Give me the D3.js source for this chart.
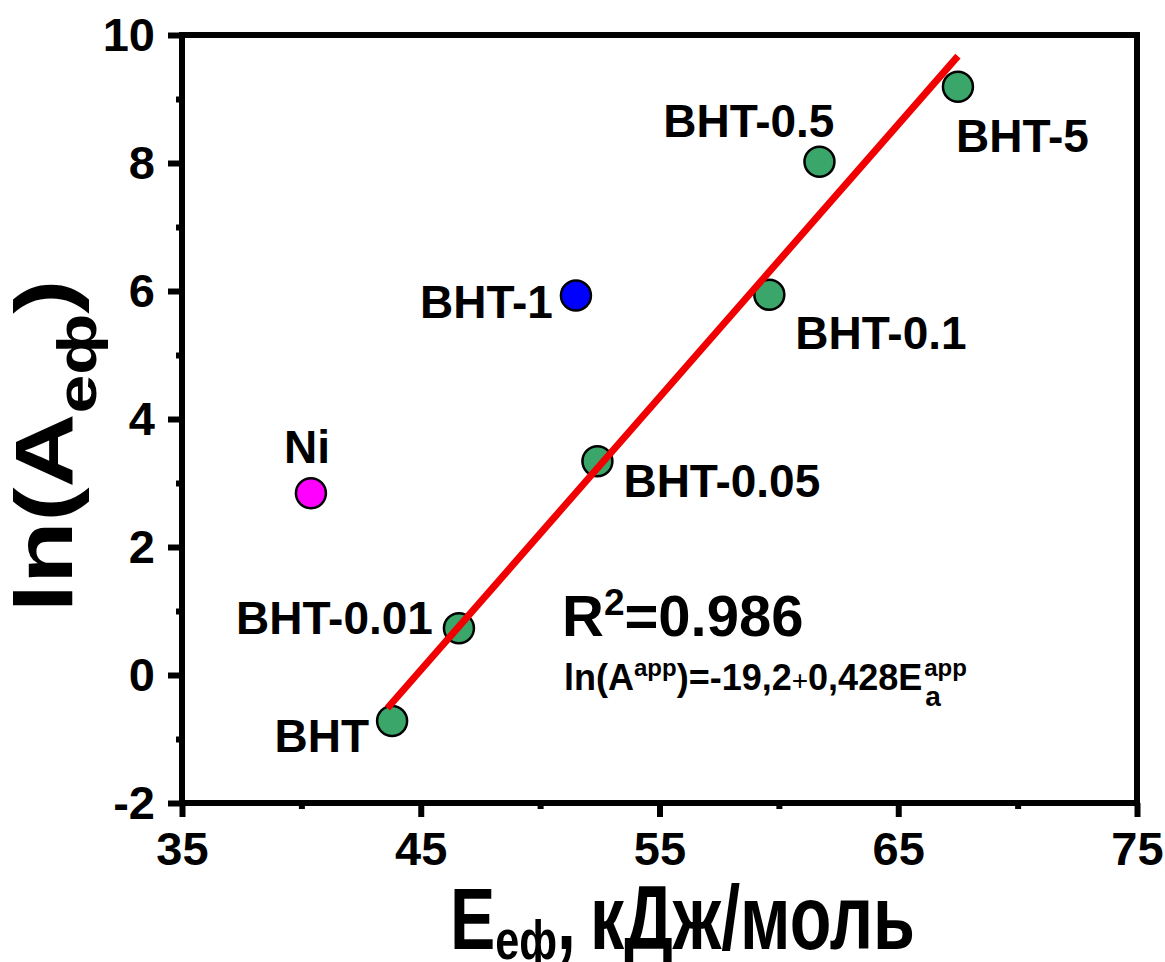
<!DOCTYPE html>
<html>
<head>
<meta charset="utf-8">
<script src="https://cdn.jsdelivr.net/npm/d3@7"></script>
<style>
  body { margin: 0; background: #fff; }
  svg { display: block; }
  text { font-family: "Liberation Sans", Arial, sans-serif; font-weight: bold; fill: #000; }
</style>
</head>
<body>
<svg id="chart" width="1165" height="962"></svg>
<script>
// ---------- data ----------
const names   = ["BHT", "BHT-0.01", "Ni", "BHT-1", "BHT-0.05", "BHT-0.1", "BHT-0.5", "BHT-5"];
const eValues = [43.8, 46.6, 40.4, 51.5, 52.4, 59.6, 61.7, 67.5];
const lnA     = [-0.72, 0.73, 2.84, 5.93, 3.34, 5.94, 8.02, 9.19];
const groups  = ["bht", "bht", "ni", "blue", "bht", "bht", "bht", "bht"];
const fitE    = [43.6, 67.5];
const fitLnA  = [-0.52, 9.67];
const xTicks  = [35, 45, 55, 65, 75];
const xMinor  = [40, 50, 60, 70];
const yTicks  = [-2, 0, 2, 4, 6, 8, 10];
const yMinor  = [-1, 1, 3, 5, 7, 9];

// ---------- layout ----------
const svg = d3.select("#chart");
const L = 182, R = 1137, T = 35, B = 803;
const x = d3.scaleLinear().domain([35, 75]).range([L, R]);
const y = d3.scaleLinear().domain([-2, 10]).range([B, T]);
const colors = { bht: "#3aa66a", ni: "#ff00ff", blue: "#0000ff" };
const labelPos = {
  "BHT":      { dx: -23, dy: 31, anchor: "end" },
  "BHT-0.01": { dx: -26, dy: 6,  anchor: "end" },
  "Ni":       { dx: -4,  dy: -30, anchor: "middle" },
  "BHT-1":    { dx: -23, dy: 23, anchor: "end" },
  "BHT-0.05": { dx: 26,  dy: 36, anchor: "start" },
  "BHT-0.1":  { dx: 26,  dy: 54, anchor: "start" },
  "BHT-0.5":  { dx: 15,  dy: -25, anchor: "end" },
  "BHT-5":    { dx: -2,  dy: 65, anchor: "start" }
};

// axes
function styleAxis(g) {
  g.select(".domain").remove();
  g.selectAll(".tick line").attr("stroke", "#000").attr("stroke-width", 6);
  g.selectAll(".tick text").style("font-size", "47px").style("font-family", '"Liberation Sans", Arial, sans-serif').style("font-weight", "bold").attr("fill", "#000");
}
const fmt = d => String(d);
svg.append("g").attr("transform", `translate(0,${B})`)
  .call(d3.axisBottom(x).tickValues(xMinor).tickSize(6).tickFormat(""))
  .call(styleAxis);
svg.append("g").attr("transform", `translate(0,${B})`)
  .call(d3.axisBottom(x).tickValues(xTicks).tickSize(14).tickPadding(15).tickFormat(fmt))
  .call(styleAxis);
svg.append("g").attr("transform", `translate(${L},0)`)
  .call(d3.axisLeft(y).tickValues(yMinor).tickSize(6).tickFormat(""))
  .call(styleAxis);
svg.append("g").attr("transform", `translate(${L},0)`)
  .call(d3.axisLeft(y).tickValues(yTicks).tickSize(14).tickPadding(13).tickFormat(fmt))
  .call(styleAxis);

// frame
svg.append("rect").attr("x", L).attr("y", T).attr("width", R - L).attr("height", B - T)
  .attr("fill", "none").attr("stroke", "#000").attr("stroke-width", 6);

// points
const pts = names.map((n, i) => ({ name: n, e: eValues[i], a: lnA[i], g: groups[i] }));
svg.append("g").selectAll("circle").data(pts).join("circle")
  .attr("cx", d => x(d.e)).attr("cy", d => y(d.a)).attr("r", 15)
  .attr("fill", d => colors[d.g]).attr("stroke", "#000").attr("stroke-width", 2.5);

// fit line (drawn over markers as in reference)
svg.append("line")
  .attr("x1", x(fitE[0])).attr("y1", y(fitLnA[0]))
  .attr("x2", x(fitE[1])).attr("y2", y(fitLnA[1]))
  .attr("stroke", "#f00000").attr("stroke-width", 7);

// labels
svg.append("g").selectAll("text").data(pts).join("text")
  .attr("x", d => x(d.e) + labelPos[d.name].dx)
  .attr("y", d => y(d.a) + labelPos[d.name].dy)
  .attr("text-anchor", d => labelPos[d.name].anchor)
  .style("font-size", "46px")
  .text(d => d.name);

// R^2 annotation
const r2 = svg.append("text").attr("x", 562).attr("y", 636).style("font-size", "58px");
r2.append("tspan").text("R");
r2.append("tspan").attr("dy", -21).style("font-size", "37px").text("2");
r2.append("tspan").attr("dy", 21).text("=0.986");

const eq = svg.append("text").attr("x", 564).attr("y", 690).style("font-size", "36px");
eq.append("tspan").text("ln(A");
eq.append("tspan").attr("dy", -14).style("font-size", "24px").text("app");
eq.append("tspan").attr("dy", 14).text(")=-19,2");
eq.append("tspan").style("font-size", "28px").style("font-weight", "normal").text("+");
eq.append("tspan").text("0,428E");
const eLen = eq.node().getComputedTextLength();
svg.append("text").attr("x", 564 + eLen + 2).attr("y", 676).style("font-size", "24px").text("app");
svg.append("text").attr("x", 564 + eLen + 3).attr("y", 706).style("font-size", "28px").text("a");

// x axis title
const xt1 = svg.append("text").attr("y", 949).style("font-size", "88px");
xt1.append("tspan").text("E");
xt1.append("tspan").attr("dy", 10).style("font-size", "56px").text("еф");
xt1.append("tspan").attr("dy", -10).text(",");
const w1 = xt1.node().getComputedTextLength();
xt1.attr("transform", `translate(450,0) scale(${126 / w1},1)`);
const xt2 = svg.append("text").attr("y", 949).style("font-size", "90px").text("кДж/моль");
const w2 = xt2.node().getComputedTextLength();
xt2.attr("transform", `translate(590,0) scale(${325 / w2},1)`);

// y axis title
const yt = svg.append("text").attr("text-anchor", "middle").style("font-size", "82px");
yt.append("tspan").text("ln(A");
yt.append("tspan").attr("dy", 24).style("font-size", "56px").text("еф");
yt.append("tspan").attr("dy", -24).text(")");
const wy = yt.node().getComputedTextLength();
yt.attr("transform", `translate(72,446) rotate(-90) scale(${333 / wy},1)`);
</script>
</body>
</html>
